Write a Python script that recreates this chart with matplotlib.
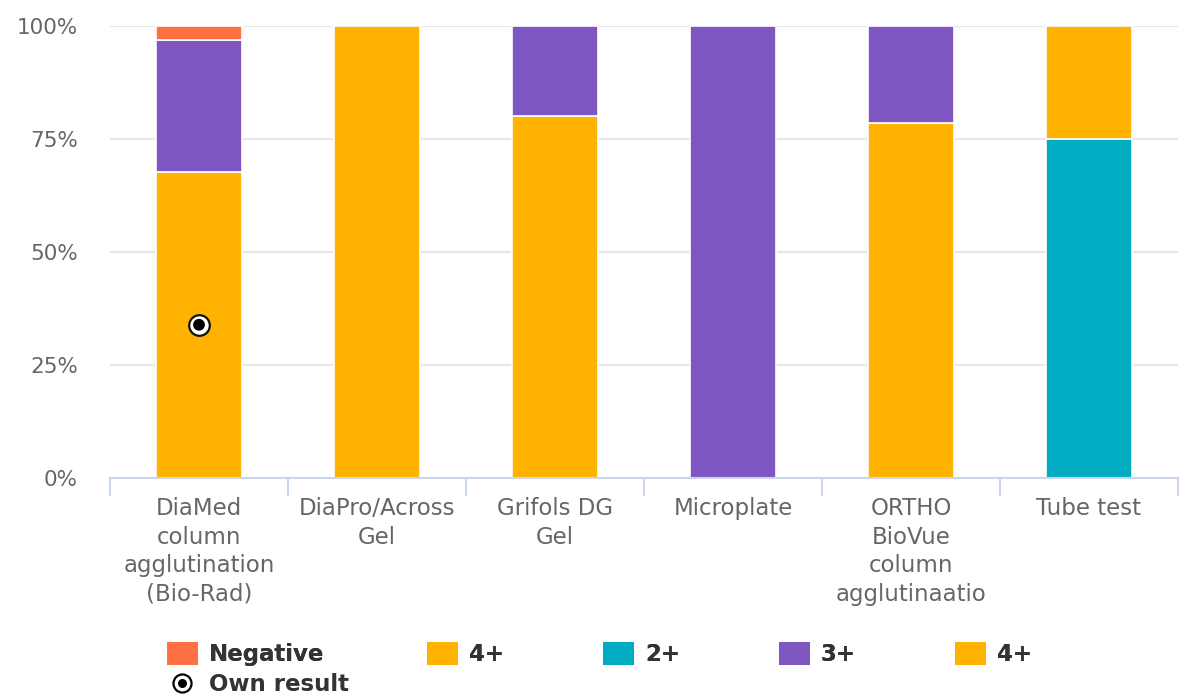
import matplotlib
matplotlib.use("Agg")
import matplotlib.pyplot as plt
from matplotlib.patches import Patch
from matplotlib.lines import Line2D
import numpy as np

categories = ["DiaMed\ncolumn\nagglutination\n(Bio-Rad)", "DiaPro/Across\nGel", "Grifols DG\nGel",
              "Microplate", "ORTHO\nBioVue\ncolumn\nagglutinaatio", "Tube test"]
# series in legend order (percent of results)
negative = [3.2, 0, 0, 0, 0, 0]
four_plus_a = [0, 0, 0, 0, 0, 25.0]
two_plus = [0, 0, 0, 0, 0, 75.0]
three_plus = [29.0, 0, 20.0, 100.0, 21.4, 0]
four_plus_b = [67.8, 100.0, 80.0, 0, 78.6, 0]
own_result_cat = 0
own_result_val = 33.9
yticks = [0, 25, 50, 75, 100]
ytick_labels = ["0%", "25%", "50%", "75%", "100%"]

C_NEG = "#FF7043"
C_4 = "#FFB300"
C_2 = "#00ACC1"
C_3 = "#7E57C2"

W, H = 1191, 699
fig = plt.figure(figsize=(W / 100, H / 100), dpi=100)
ax = fig.add_axes([110 / W, (H - 478) / H, (1178 - 110) / W, (478 - 26) / H])

x = np.arange(len(categories))
bw = 0.48
stack_bottom_to_top = [(four_plus_b, C_4), (three_plus, C_3), (two_plus, C_2),
                       (four_plus_a, C_4), (negative, C_NEG)]
bottom = np.zeros(len(categories))
for vals, col in stack_bottom_to_top:
    v = np.array(vals, dtype=float)
    mask = v > 0
    ax.bar(x[mask], v[mask], bw, bottom=bottom[mask], color=col,
           edgecolor="white", linewidth=1.2, zorder=3)
    bottom += v

# own result marker
ax.scatter([own_result_cat], [own_result_val], s=220, facecolor="white",
           edgecolor="#111111", linewidth=1.6, zorder=5)
ax.scatter([own_result_cat], [own_result_val], s=72, facecolor="black",
           edgecolor="none", zorder=6)

ax.set_xlim(-0.5, len(categories) - 0.5)
ax.set_ylim(0, 100)
ax.set_yticks(yticks)
ax.set_yticklabels(ytick_labels)
for yv in yticks[1:]:
    ax.axhline(yv, color="#e6e6e6", linewidth=1.5, zorder=1)

ax.set_xticks(x)
ax.set_xticklabels(categories, linespacing=1.3)
ax.set_xticks(np.arange(len(categories) + 1) - 0.5, minor=True)
ax.tick_params(axis="x", which="major", length=0, pad=14, labelsize=16.5, labelcolor="#666666")
ax.tick_params(axis="x", which="minor", length=13, width=1.5, color="#ccd6eb")
ax.tick_params(axis="y", length=0, pad=23, labelsize=15.5, labelcolor="#666666")
for lbl in ax.get_xticklabels():
    lbl.set_verticalalignment("top")

for s in ["top", "right", "left"]:
    ax.spines[s].set_visible(False)
ax.spines["bottom"].set_color("#ccd6eb")
ax.spines["bottom"].set_linewidth(1.5)
ax.spines["bottom"].set_zorder(4)

# legend
LEG_FS = 16.5
items = [("Negative", C_NEG, 167), ("4+", C_4, 427), ("2+", C_2, 603),
         ("3+", C_3, 779), ("4+", C_4, 955)]
for label, col, px in items:
    lg = fig.legend(handles=[Patch(facecolor=col, edgecolor="none", label=label)],
                    loc="upper left", bbox_to_anchor=(px / W, 1 - 642 / H),
                    frameon=False, handlelength=1.35, handleheight=1.18,
                    handletextpad=0.48, borderaxespad=0, borderpad=0,
                    prop={"weight": "bold", "size": LEG_FS})
    for t in lg.get_texts():
        t.set_color("#333333")
    fig.add_artist(lg)

own_h = (Line2D([], [], marker="o", markersize=13, markerfacecolor="white",
                markeredgecolor="black", markeredgewidth=1.6, linestyle="none"),
         Line2D([], [], marker="o", markersize=6.5, markerfacecolor="black",
                markeredgecolor="none", linestyle="none"))
lg2 = fig.legend(handles=[own_h], labels=["Own result"], loc="upper left",
                 bbox_to_anchor=(167 / W, 1 - 673 / H), frameon=False,
                 handlelength=1.35, handletextpad=0.48, borderaxespad=0, borderpad=0,
                 prop={"weight": "bold", "size": LEG_FS})
for t in lg2.get_texts():
    t.set_color("#333333")

fig.savefig("out.png", dpi=100, facecolor="white")
